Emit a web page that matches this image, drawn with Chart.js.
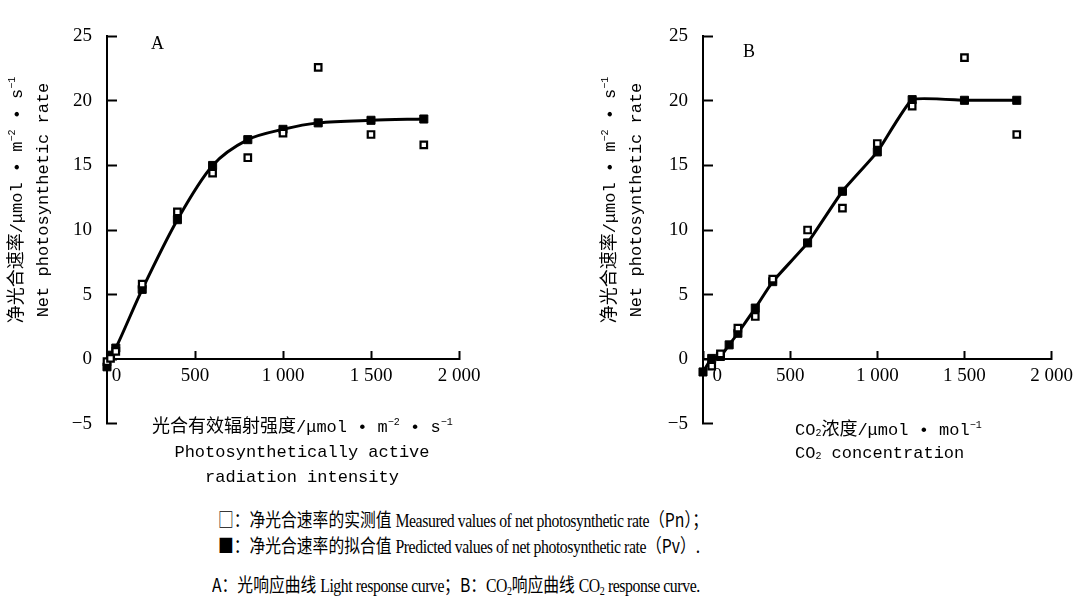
<!DOCTYPE html>
<html>
<head>
<meta charset="utf-8">
<script src="https://cdn.jsdelivr.net/npm/chart.js@4.4.1/dist/chart.umd.min.js"></script>
<style>
  body { margin: 0; background: #fff; }
  #page { position: relative; width: 1088px; height: 596px; overflow: hidden; background: #fff; color: #000; }
  canvas { position: absolute; top: 0; }
  .mono { font-family: "Liberation Mono", "Noto Sans CJK SC", monospace; font-size: 17px; white-space: nowrap; }
  .mono .cn { font-size: 18px; }
  .mono sup { font-size: 10px; vertical-align: 7px; line-height: 0; }
  .mono sub { font-size: 10px; vertical-align: -1px; line-height: 0; }
  .ytitle { position: absolute; width: 260px; height: 52px; line-height: 26px; text-align: center; transform: rotate(-90deg); }
  .xtitle { position: absolute; }
  .panel { position: absolute; font-family: "Liberation Serif", serif; font-size: 18px; line-height: 20px; }
  .cap { position: absolute; left: 218px; height: 26px; line-height: 26px; white-space: nowrap; font-size: 19px;
         font-family: "Liberation Serif", "Noto Sans CJK SC", serif; transform: scaleX(0.83); transform-origin: left center; }
  .cap .en { letter-spacing: -0.5px; }
  .cap .cn { font-family: "Noto Sans CJK SC", sans-serif; }
  .cap sub { font-size: 12px; vertical-align: -3px; line-height: 0; }
</style>
</head>
<body>
<div id="page">
  <canvas id="chartA" width="544" height="460" style="left:0"></canvas>
  <canvas id="chartB" width="544" height="460" style="left:544px"></canvas>

  <div class="panel" style="left:151px; top:33px;">A</div>
  <div class="panel" style="left:743px; top:41px;">B</div>

  <div class="ytitle mono" style="left:-100px; top:174px;"><span class="cn">净光合速率</span>/μmol • m<sup>−2</sup> • s<sup>−1</sup><br>Net photosynthetic rate</div>
  <div class="ytitle mono" style="left:493px; top:174px;"><span class="cn">净光合速率</span>/μmol • m<sup>−2</sup> • s<sup>−1</sup><br>Net photosynthetic rate</div>

  <div class="xtitle mono" style="left:152px; top:415px; width:300px; line-height:25px; text-align:center;"><span class="cn">光合有效辐射强度</span>/μmol • m<sup>−2</sup> • s<sup>−1</sup><br>Photosynthetically active<br>radiation intensity</div>
  <div class="xtitle mono" style="left:795px; top:419px; line-height:23px; text-align:left;">CO<sub>2</sub><span class="cn">浓度</span>/μmol • mol<sup>−1</sup><br>CO<sub>2</sub> concentration</div>

  <div class="cap" style="top:506px;"><span class="cn">□：净光合速率的实测值</span> <span class="en">Measured values of net photosynthetic rate</span><span class="cn">（Pn）；</span></div>
  <div class="cap" style="top:532px;"><span class="cn">■：净光合速率的拟合值</span> <span class="en">Predicted values of net photosynthetic rate</span><span class="cn">（Pv）.</span></div>
  <div class="cap" style="top:571px; left:212px;"><span class="cn">A：光响应曲线</span> <span class="en">Light response curve</span><span class="cn">；B：</span><span class="en">CO<sub>2</sub></span><span class="cn">响应曲线</span> <span class="en">CO<sub>2</sub> response curve.</span></div>
</div>

<script>
// A: light response
const lightMeasuredX = [0, 20, 50, 200, 400, 600, 800, 1000, 1200, 1500, 1800];
const lightMeasured = [-0.2, 0.05, 0.6, 5.8, 11.4, 14.4, 15.6, 17.5, 22.6, 17.4, 16.6];
const lightFitX = [0, 20, 50, 200, 400, 600, 800, 1000, 1200, 1500, 1800];
const lightFit = [-0.6, 0.3, 0.85, 5.4, 10.8, 15.0, 17.0, 17.8, 18.3, 18.5, 18.6];

// B: CO2 response
const co2MeasuredX = [50, 100, 200, 300, 400, 600, 800, 1000, 1200, 1500, 1800];
const co2Measured = [-0.55, 0.4, 2.4, 3.3, 6.2, 10.0, 11.7, 16.7, 19.6, 23.35, 17.4];
const co2FitX = [0, 50, 100, 150, 200, 300, 400, 600, 800, 1000, 1200, 1500, 1800];
const co2Fit = [-1.0, 0.05, 0.2, 1.1, 2.0, 3.95, 6.0, 9.0, 13.0, 16.05, 20.1, 20.05, 20.05];

const yTicks = [-5, 0, 5, 10, 15, 20, 25];
const xTicks = [0, 500, 1000, 1500, 2000];

function toPoints(xs, ys) {
    return xs.map((x, i) => ({ x: x, y: ys[i] }));
}

function makeChart(id, measuredX, measured, fitX, fit, box) {
    const ctx = document.getElementById(id).getContext('2d');
    return new Chart(ctx, {
        type: 'scatter',
        data: {
            datasets: [{
                label: 'Measured',
                data: toPoints(measuredX, measured),
                pointStyle: 'rect',
                pointRadius: 4.6,
                pointBorderWidth: 2.2,
                pointBackgroundColor: '#fff',
                pointBorderColor: '#000',
                showLine: false,
                clip: false,
                order: 0
            }, {
                label: 'Predicted',
                data: toPoints(fitX, fit),
                pointStyle: 'rect',
                pointRadius: 5.7,
                pointBorderWidth: 1,
                pointBackgroundColor: '#000',
                pointBorderColor: '#000',
                borderColor: '#000',
                borderWidth: 3,
                showLine: true,
                tension: box.tension,
                clip: false,
                order: 1
            }]
        },
        options: {
            responsive: false,
            animation: false,
            layout: { padding: box.padding },
            plugins: { legend: { display: false }, tooltip: { enabled: false } },
            scales: {
                x: {
                    type: 'linear',
                    position: { y: 0 },
                    min: 0,
                    max: 2000,
                    afterFit: s => { s.height = 0; },
                    afterBuildTicks: s => { s.ticks = xTicks.map(v => ({ value: v })); },
                    grid: { drawOnChartArea: false, drawTicks: true, tickLength: -9, tickColor: '#000', tickWidth: 2 },
                    border: { display: true, color: '#000', width: 2 },
                    ticks: {
                        padding: 15,
                        color: '#000',
                        font: { family: '"Liberation Serif", serif', size: 19 },
                        maxRotation: 0,
                        autoSkip: false,
                        callback: v => v === 0 ? box.zeroLabel : (v >= 1000 ? Math.floor(v / 1000) + ' ' + String(v % 1000).padStart(3, '0') : String(v))
                    }
                },
                y: {
                    type: 'linear',
                    position: 'left',
                    min: -5,
                    max: 25,
                    afterFit: s => { s.width = box.yWidth; },
                    afterBuildTicks: s => { s.ticks = yTicks.map(v => ({ value: v })); },
                    grid: { drawOnChartArea: false, drawTicks: true, tickLength: -10, tickColor: '#000', tickWidth: 2 },
                    border: { display: true, color: '#000', width: 2 },
                    ticks: {
                        padding: 25,
                        color: '#000',
                        font: { family: '"Liberation Serif", serif', size: 19 },
                        callback: v => v < 0 ? '\u2212' + Math.abs(v) : String(v)
                    }
                }
            }
        }
    });
}

const chartA = makeChart('chartA', lightMeasuredX, lightMeasured, lightFitX, lightFit, {
    padding: { left: 0, top: 13, right: 85, bottom: 17.5 },
    yWidth: 107,
    tension: 0.3,
    zeroLabel: '\u20030'
});

const chartB = makeChart('chartB', co2MeasuredX, co2Measured, co2FitX, co2Fit, {
    padding: { left: 0, top: 25, right: 29, bottom: 20 },
    yWidth: 159,
    tension: 0.12,
    zeroLabel: '\u2003\u20020'
});
</script>
</body>
</html>
